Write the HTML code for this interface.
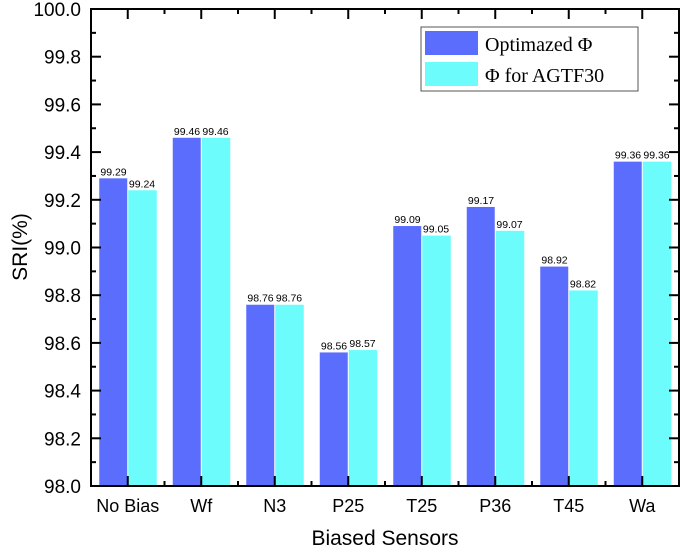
<!DOCTYPE html>
<html><head><meta charset="utf-8"><style>
body{margin:0;background:#fff}
svg{display:block;font-family:"Liberation Sans",sans-serif}
</style></head><body>
<svg id="chart" width="685" height="552">
<g id="plot"></g>
</svg>
<script>
const categories=["No Bias","Wf","N3","P25","T25","P36","T45","Wa"];
const optimized=[99.29,99.46,98.76,98.56,99.09,99.17,98.92,99.36];
const agtf30=[99.24,99.46,98.76,98.57,99.05,99.07,98.82,99.36];
const yTicks=[98.0,98.2,98.4,98.6,98.8,99.0,99.2,99.4,99.6,99.8,100.0];
const L=91,R=679,T=9,B=486,ymin=98,ymax=100;
const NS="http://www.w3.org/2000/svg";
const g=document.getElementById('plot');
const cw=(R-L)/categories.length;
const y=v=>B-(v-ymin)/(ymax-ymin)*(B-T);
const xc=i=>L+cw*(i+0.5);
function mk(t,a,txt){const e=document.createElementNS(NS,t);for(const k in a)e.setAttribute(k,a[k]);if(txt!==undefined)e.textContent=txt;g.appendChild(e);return e;}
const bw=28.5;
categories.forEach((c,i)=>{
 const cx=xc(i);
 let e=mk('rect',{x:cx-bw,y:y(optimized[i]),width:bw-0.5,height:B-y(optimized[i]),fill:'#5b6dfd'});
 
 
 e=mk('rect',{x:cx+0.5,y:y(agtf30[i]),width:bw,height:B-y(agtf30[i]),fill:'#6cfcfc'});
 
 
 e=mk('text',{x:cx-bw/2,y:y(optimized[i])-3,'font-size':10.5,'text-anchor':'middle'},optimized[i].toFixed(2));
 
 
 e=mk('text',{x:cx+bw/2,y:y(agtf30[i])-3,'font-size':10.5,'text-anchor':'middle'},agtf30[i].toFixed(2));
 
 
 e=mk('text',{x:cx,y:512,'font-size':18,'text-anchor':'middle'},c);
 
 
});
// ticks
for(let i=0;i<=categories.length*2;i++){
 const x=L+cw*i/2, len=(i%2)?10:5;
 mk('line',{x1:x,x2:x,y1:B,y2:B-len,stroke:'#000','stroke-width':2});
 mk('line',{x1:x,x2:x,y1:T,y2:T+len,stroke:'#000','stroke-width':2});
}
yTicks.forEach((v,i)=>{
 mk('line',{x1:L,x2:L+10,y1:y(v),y2:y(v),stroke:'#000','stroke-width':2});
 mk('line',{x1:R,x2:R-10,y1:y(v),y2:y(v),stroke:'#000','stroke-width':2});
 if(i<yTicks.length-1){const m=y(v+0.1);
  mk('line',{x1:L,x2:L+5,y1:m,y2:m,stroke:'#000','stroke-width':2});
  mk('line',{x1:R,x2:R-5,y1:m,y2:m,stroke:'#000','stroke-width':2});}
 const e=mk('text',{x:81,y:y(v)+7,'font-size':19,'text-anchor':'end'},v.toFixed(1));
 
 
});
let f=mk('rect',{x:L,y:T,width:R-L,height:B-T,fill:'none',stroke:'#000','stroke-width':2});


let t=mk('text',{x:385,y:545,'font-size':21,'text-anchor':'middle'},'Biased Sensors');


t=mk('text',{x:0,y:0,'font-size':21,'text-anchor':'middle',transform:'translate(27,247) rotate(-90)'},'SRI(%)');


// legend
const lg=mk('g',{});


mk('rect',{x:421,y:27,width:217,height:64,fill:'#fff',stroke:'#555','stroke-width':1});
mk('rect',{x:425,y:31,width:53,height:24,fill:'#5b6dfd'});
mk('rect',{x:425,y:62,width:53,height:24,fill:'#6cfcfc'});
t=mk('text',{x:485,y:51,'font-size':20,'font-family':'Liberation Serif, serif'},'Optimazed Φ');


t=mk('text',{x:485,y:82,'font-size':20,'font-family':'Liberation Serif, serif'},'Φ for AGTF30');


</script>
</body></html>
